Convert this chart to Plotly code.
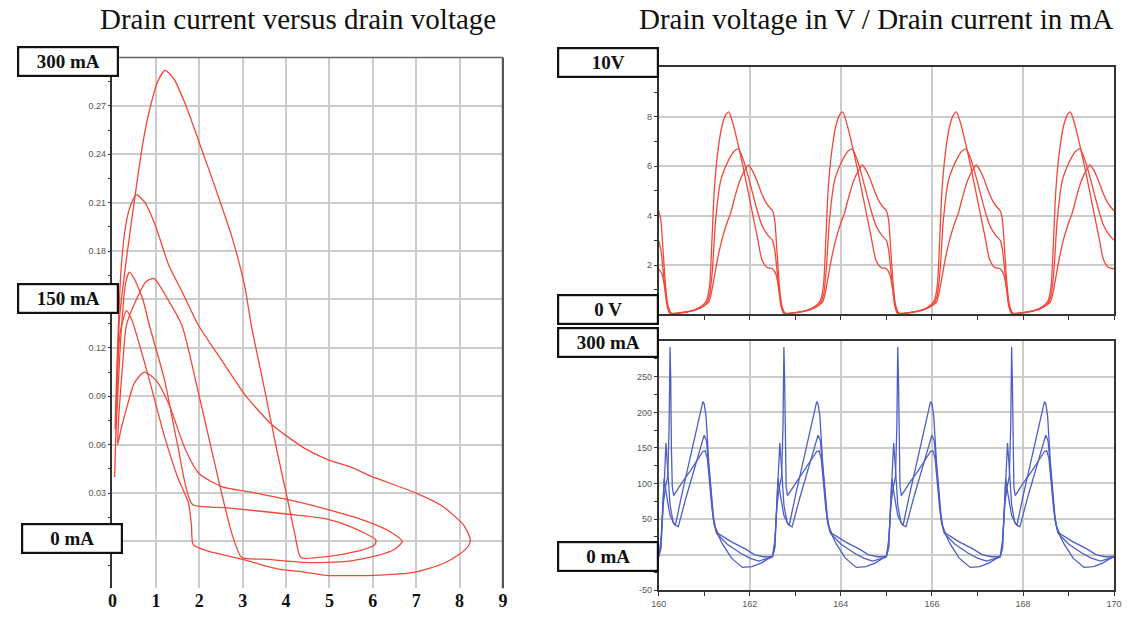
import plotly.graph_objects as go

W, H = 1129, 618

# ---------------- Left: drain current (A) versus drain voltage (V) ----------------
loop_inner_v = [6.07, 5.5, 4.93, 4.02, 2.59, 1.84, 1.5, 1.2, 0.85, 0.7, 0.5, 0.39, 0.3, 0.2, 0.12, 0.07, 0.05,
                0.08, 0.12, 0.16, 0.32, 0.55, 0.7, 0.85, 1.04, 1.21, 1.41, 1.68, 2.07, 2.36, 2.75, 3.05, 3.2,
                3.5, 3.8, 4.02, 4.2, 4.34, 4.7, 5.3, 5.8, 6.05, 6.07]
loop_inner_i = [0.001, 0.009, 0.014, 0.017, 0.021, 0.023, 0.06, 0.1, 0.134, 0.15, 0.163, 0.167, 0.16, 0.13, 0.09,
                0.06, 0.04, 0.07, 0.11, 0.138, 0.175, 0.22, 0.247, 0.267, 0.285, 0.292, 0.287, 0.271, 0.242, 0.22,
                0.189, 0.158, 0.134, 0.095, 0.055, 0.028, 0.005, -0.010, -0.010, -0.008, -0.005, -0.002, 0.001]

loop_mid_v = [6.68, 6.4, 5.8, 4.93, 4.02, 3.3, 2.52, 2.0, 1.68, 1.3, 1.0, 0.73, 0.5, 0.35, 0.2, 0.12,
              0.15, 0.25, 0.32, 0.55, 0.77, 0.96, 1.3, 1.6, 2.0, 2.48, 2.75, 2.98, 3.5, 4.4, 4.93, 5.5,
              6.07, 6.5, 6.68]
loop_mid_i = [0.0, 0.006, 0.013, 0.020, 0.026, 0.030, 0.034, 0.042, 0.057, 0.085, 0.1, 0.105, 0.098, 0.085,
              0.07, 0.06, 0.08, 0.115, 0.134, 0.15, 0.161, 0.163, 0.149, 0.134, 0.09, 0.034, 0.005, -0.010,
              -0.011, -0.013, -0.013, -0.012, -0.009, -0.005, 0.0]

loop_out_v = [8.25, 8.1, 7.6, 7.0, 6.0, 5.5, 4.93, 4.41, 3.65, 3.05, 2.5, 1.98, 1.6, 1.3, 1.0, 0.75, 0.55,
              0.4, 0.3, 0.2, 0.13, 0.08, 0.06, 0.1, 0.18, 0.32, 0.45, 0.8, 1.2, 1.5, 1.75, 1.82, 1.86,
              2.2, 2.98, 3.8, 4.41, 4.93, 6.0, 6.98, 7.6, 8.0, 8.2, 8.25]
loop_out_i = [0.001, 0.010, 0.022, 0.030, 0.040, 0.046, 0.051, 0.058, 0.073, 0.091, 0.113, 0.134, 0.155,
              0.171, 0.195, 0.21, 0.215, 0.207, 0.195, 0.17, 0.13, 0.09, 0.07, 0.1, 0.13, 0.143, 0.137,
              0.105, 0.065, 0.04, 0.024, 0.01, -0.002, -0.006, -0.011, -0.017, -0.019, -0.021, -0.021,
              -0.019, -0.014, -0.008, -0.003, 0.001]

left_x_ticks = [0, 1, 2, 3, 4, 5, 6, 7, 8, 9]
left_y_ticks = [0.0, 0.03, 0.06, 0.09, 0.12, 0.15, 0.18, 0.21, 0.24, 0.27]
left_y_text = ["", "0.03", "0.06", "0.09", "0.12", "", "0.18", "0.21", "0.24", "0.27"]

period_starts = [160, 162.5, 165, 167.5]
t_end = 170
time_ticks = [160, 162, 164, 166, 168, 170]
volt_ticks = [0, 2, 4, 6, 8, 10]
volt_text = ["", "2", "4", "6", "8", ""]
cur_ticks = [-50, 0, 50, 100, 150, 200, 250, 300]
cur_text = ["-50", "", "50", "100", "150", "200", "250", ""]

va_phase = [0, 0.08, 0.14, 0.2, 0.26, 0.4, 0.6, 0.8, 0.95, 1.05, 1.12, 1.17, 1.22, 1.3, 1.4, 1.48, 1.54,
            1.62, 1.73, 1.84, 1.95, 2.06, 2.17, 2.27, 2.38]
va_val = [1.85, 1.6, 1.0, 0.3, 0.05, 0.05, 0.1, 0.2, 0.35, 0.55, 1.2, 3.0, 5.0, 6.6, 7.7, 8.1, 8.2,
          7.8, 7.0, 6.1, 5.1, 4.1, 3.1, 2.2, 1.9]

vb_phase = [0, 0.05, 0.12, 0.18, 0.24, 0.4, 0.6, 0.8, 0.95, 1.05, 1.12, 1.18, 1.25, 1.36, 1.45, 1.55, 1.65,
            1.75, 1.85, 1.95, 2.05, 2.15, 2.27, 2.4]
vb_val = [3.0, 2.6, 1.4, 0.4, 0.05, 0.05, 0.1, 0.18, 0.3, 0.45, 0.8, 1.8, 3.8, 5.4, 5.9, 6.3, 6.6,
          6.7, 6.3, 5.7, 5.0, 4.3, 3.6, 3.2]

vc_phase = [0, 0.05, 0.1, 0.15, 0.2, 0.28, 0.45, 0.65, 0.85, 1.0, 1.1, 1.15, 1.22, 1.3, 1.4, 1.5, 1.58,
            1.68, 1.78, 1.88, 1.97, 2.05, 2.15, 2.25, 2.35, 2.45]
vc_val = [4.2, 3.8, 2.5, 1.2, 0.4, 0.05, 0.05, 0.1, 0.2, 0.35, 0.5, 0.8, 1.5, 2.3, 3.1, 3.7, 4.1,
          4.8, 5.4, 5.8, 6.05, 5.85, 5.45, 4.95, 4.55, 4.3]

i1_phase = [0, 0.05, 0.09, 0.13, 0.16, 0.2, 0.25, 0.32, 0.37, 0.5, 0.7, 0.9, 0.97, 1.0, 1.04, 1.1, 1.15,
            1.2, 1.25, 1.4, 1.6, 1.84, 2.05, 2.25, 2.4]
i1_val = [-3, 10, 70, 110, 157, 120, 70, 45, 42, 82, 140, 196, 215, 212, 195, 130, 90,
          55, 35, 15, -5, -18, -17, -12, -6]

i2_phase = [0, 0.05, 0.09, 0.12, 0.17, 0.25, 0.35, 0.43, 0.6, 0.8, 0.95, 1.0, 1.05, 1.1, 1.15, 1.2, 1.27,
            1.5, 1.8, 2.0, 2.2, 2.4]
i2_val = [-3, 10, 60, 107, 85, 55, 42, 39, 80, 125, 160, 168, 160, 120, 80, 50, 30,
          15, 2, -5, -9, -5]

i3_phase = [0, 0.05, 0.1, 0.15, 0.2, 0.23, 0.25, 0.265, 0.28, 0.3, 0.33, 0.5, 0.7, 0.9, 0.97, 1.02, 1.07,
            1.12, 1.17, 1.22, 1.3, 1.6, 1.9, 2.1, 2.3, 2.42]
i3_val = [-2, 20, 70, 95, 110, 180, 292, 250, 150, 95, 83, 100, 118, 138, 145, 146, 135,
          100, 65, 42, 30, 18, 8, 0, -3, -3]

RED = "#f2483a"
BLUE = "#4d5fc6"
GRID = "#cccccc"
AX = "#333333"


def repeat_period(phase, val):
    t, v = [], []
    for s in period_starts:
        t += [s + p for p in phase]
        v += list(val)
    t.append(t_end)
    v.append(val[0])
    return t, v


fig = go.Figure()

for vx, iy in [(loop_out_v, loop_out_i), (loop_mid_v, loop_mid_i), (loop_inner_v, loop_inner_i)]:
    fig.add_trace(go.Scatter(x=vx, y=iy, mode="lines", line=dict(color=RED, width=1.3, shape="spline",
                                                                 smoothing=0.6),
                             xaxis="x", yaxis="y", showlegend=False))

for ph, vv in [(va_phase, va_val), (vb_phase, vb_val), (vc_phase, vc_val)]:
    t, v = repeat_period(ph, vv)
    fig.add_trace(go.Scatter(x=t, y=v, mode="lines", line=dict(color=RED, width=1.3, shape="spline",
                                                               smoothing=0.6),
                             xaxis="x2", yaxis="y2", showlegend=False))

for ph, vv in [(i1_phase, i1_val), (i2_phase, i2_val), (i3_phase, i3_val)]:
    t, v = repeat_period(ph, vv)
    fig.add_trace(go.Scatter(x=t, y=v, mode="lines", line=dict(color=BLUE, width=1.3),
                             xaxis="x3", yaxis="y3", showlegend=False))


def px(x):
    return x / W


def py(y):
    return 1 - y / H


small = dict(family="Liberation Sans, Arial", size=9, color="#555555")

fig.update_layout(
    width=W, height=H, margin=dict(l=0, r=0, t=0, b=0),
    paper_bgcolor="white", plot_bgcolor="white",
    xaxis=dict(domain=[px(106), px(502)], range=[0, 9], tickvals=left_x_ticks,
               showgrid=True, gridcolor=GRID, gridwidth=1.5, showline=False, zeroline=False,
               ticks="", tickfont=dict(family="Liberation Serif", size=18, color="#111111", weight="bold"),
               fixedrange=True),
    yaxis=dict(domain=[py(593), py(58)], range=[-0.029, 0.30], tickvals=left_y_ticks, ticktext=left_y_text,
               showgrid=True, gridcolor=GRID, gridwidth=1.5, zeroline=False,
               showline=True, linecolor=AX, linewidth=1.5, ticks="outside", ticklen=3, tickcolor=AX,
               minor=dict(dtick=0.015, ticks="outside", ticklen=3, tickcolor=AX, showgrid=False),
               tickfont=small),
    xaxis2=dict(domain=[px(660), px(1122)], range=[160, 170], tickvals=time_ticks, anchor="y2",
                showgrid=True, gridcolor=GRID, gridwidth=1.5, zeroline=False, showticklabels=False,
                showline=True, mirror=True, linecolor=AX, linewidth=1.5, ticks="outside", ticklen=4,
                tickcolor=AX, minor=dict(dtick=1, ticks="outside", ticklen=4, tickcolor=AX, showgrid=False)),
    yaxis2=dict(domain=[py(317), py(68)], range=[0, 10], tickvals=volt_ticks, ticktext=volt_text, anchor="x2",
                showgrid=True, gridcolor=GRID, gridwidth=1.5, zeroline=False,
                showline=True, mirror=True, linecolor=AX, linewidth=1.5, ticks="outside", ticklen=3,
                tickcolor=AX, minor=dict(dtick=1, ticks="outside", ticklen=3, tickcolor=AX, showgrid=False),
                tickfont=small),
    xaxis3=dict(domain=[px(660), px(1122)], range=[160, 170], tickvals=time_ticks, anchor="y3",
                showgrid=True, gridcolor=GRID, gridwidth=1.5, zeroline=False,
                showline=True, mirror=True, linecolor=AX, linewidth=1.5, ticks="outside", ticklen=4,
                tickcolor=AX, minor=dict(dtick=1, ticks="outside", ticklen=4, tickcolor=AX, showgrid=False),
                tickfont=small),
    yaxis3=dict(domain=[py(595), py(344)], range=[-50, 300], tickvals=cur_ticks, ticktext=cur_text,
                anchor="x3",
                showgrid=True, gridcolor=GRID, gridwidth=1.5, zeroline=False,
                showline=True, mirror=True, linecolor=AX, linewidth=1.5, ticks="outside", ticklen=3,
                tickcolor=AX, minor=dict(dtick=25, ticks="outside", ticklen=3, tickcolor=AX, showgrid=False),
                tickfont=small),
)

# frame of the left plot (top and right edges)
fig.add_shape(type="line", xref="x domain", yref="y domain", x0=0, x1=1, y0=1, y1=1,
              line=dict(color="#666666", width=1.5))
fig.add_shape(type="line", xref="x domain", yref="y domain", x0=1, x1=1, y0=0, y1=1,
              line=dict(color="#555555", width=2.2))

title_font = dict(family="Liberation Serif, Times New Roman", size=29, color="#111111")
fig.add_annotation(text="Drain current versus drain voltage", x=px(294), y=py(19), xref="paper",
                   yref="paper", showarrow=False, font=title_font, xanchor="center", yanchor="middle")
fig.add_annotation(text="Drain voltage in V / Drain current in mA", x=px(880), y=py(19), xref="paper",
                   yref="paper", showarrow=False, font=title_font, xanchor="center", yanchor="middle")

box_font = dict(family="Liberation Serif, Times New Roman", size=19, color="#111111")
boxes = [("300 mA", 61, 62.5), ("150 mA", 61, 301), ("0 mA", 65, 543),
         ("10V", 609, 63.5), ("0 V", 609, 312), ("300 mA", 609, 345), ("0 mA", 609, 561)]
for txt, bx, by in boxes:
    fig.add_annotation(text="<b>" + txt + "</b>", x=px(bx), y=py(by), xref="paper", yref="paper",
                       showarrow=False, font=box_font, xanchor="center", yanchor="middle",
                       width=96, height=25, borderpad=1, bgcolor="white", bordercolor="#111111",
                       borderwidth=2.2)

fig.write_html("out.html", config={"displayModeBar": False},
               post_script="document.body.style.margin='0';document.body.style.overflow='hidden';")
